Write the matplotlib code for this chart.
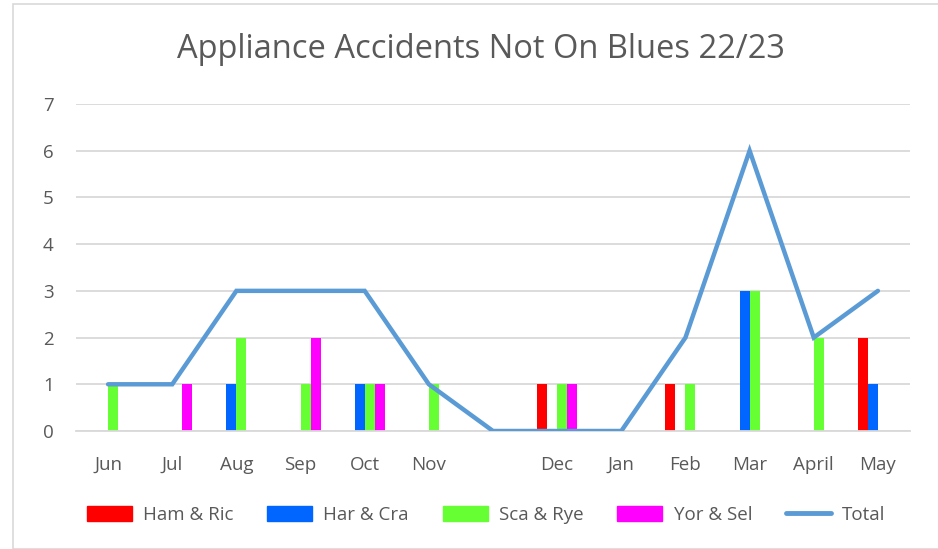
import matplotlib
matplotlib.use("Agg")
import matplotlib.pyplot as plt
import numpy as np
from matplotlib.patches import Rectangle
from matplotlib.lines import Line2D

months = ["Jun", "Jul", "Aug", "Sep", "Oct", "Nov", "", "Dec", "Jan", "Feb", "Mar", "April", "May"]
ham_ric = [0, 0, 0, 0, 0, 0, 0, 1, 0, 1, 0, 0, 2]
har_cra = [0, 0, 1, 0, 1, 0, 0, 0, 0, 0, 3, 0, 1]
sca_rye = [1, 0, 2, 1, 1, 1, 0, 1, 0, 1, 3, 2, 0]
yor_sel = [0, 1, 0, 2, 1, 0, 0, 1, 0, 0, 0, 0, 0]
total = [1, 1, 3, 3, 3, 1, 0, 0, 0, 2, 6, 2, 3]
series_names = ["Ham & Ric", "Har & Cra", "Sca & Rye", "Yor & Sel", "Total"]
colors = ["#FF0000", "#0066FF", "#66FF33", "#FF00FF"]
line_color = "#5B9BD5"
text_color = "#595959"

plt.rcParams['font.family'] = ['Open Sans', 'DejaVu Sans']

fig = plt.figure(figsize=(9.38, 5.49), dpi=100)
fig.patches.append(Rectangle((13/938, 0), 1, 1 - 4/549, transform=fig.transFigure,
                             fill=False, edgecolor="#D9D9D9", linewidth=1.2))
ax = fig.add_axes([76/938, 118/549, 834/938, 327/549])

x = np.arange(len(months))
w = 0.156
for i, (vals, c) in enumerate(zip([ham_ric, har_cra, sca_rye, yor_sel], colors)):
    ax.bar(x + (i - 1.5) * w, vals, width=w, color=c, zorder=2)
ax.plot(x, total, color=line_color, linewidth=3.2, zorder=3, solid_capstyle='round', solid_joinstyle='miter')

ax.set_xlim(-0.5, len(months) - 0.5)
ax.set_ylim(0, 7)
ax.set_yticks(range(0, 8))
ax.set_xticks(x)
ax.set_xticklabels(months)
ax.grid(axis='y', color="#D9D9D9", linewidth=1.3, zorder=0)
ax.set_axisbelow(True)
for s in ["top", "right", "left"]:
    ax.spines[s].set_visible(False)
ax.spines["bottom"].set_color("#D9D9D9")
ax.spines["bottom"].set_linewidth(1.3)
ax.tick_params(axis='both', length=0, labelsize=13.5, colors=text_color)
ax.tick_params(axis='x', pad=18)
ax.tick_params(axis='y', pad=16)

fig.text(481/938, 1 - 50/549, "Appliance Accidents Not On Blues 22/23", ha='center', va='center',
         fontsize=23.5, color=text_color)

handles = [Rectangle((0, 0), 1, 1, color=c) for c in colors]
handles.append(Line2D([0], [0], color=line_color, linewidth=3.5, solid_capstyle='round'))
leg = fig.legend(handles, series_names, loc='center', bbox_to_anchor=(486/938, 1 - 515/549),
                 ncol=5, frameon=False, fontsize=13.5, handlelength=2.4, handleheight=0.8,
                 columnspacing=1.8, handletextpad=0.6, labelcolor=text_color)

fig.savefig("out.png", dpi=100)
